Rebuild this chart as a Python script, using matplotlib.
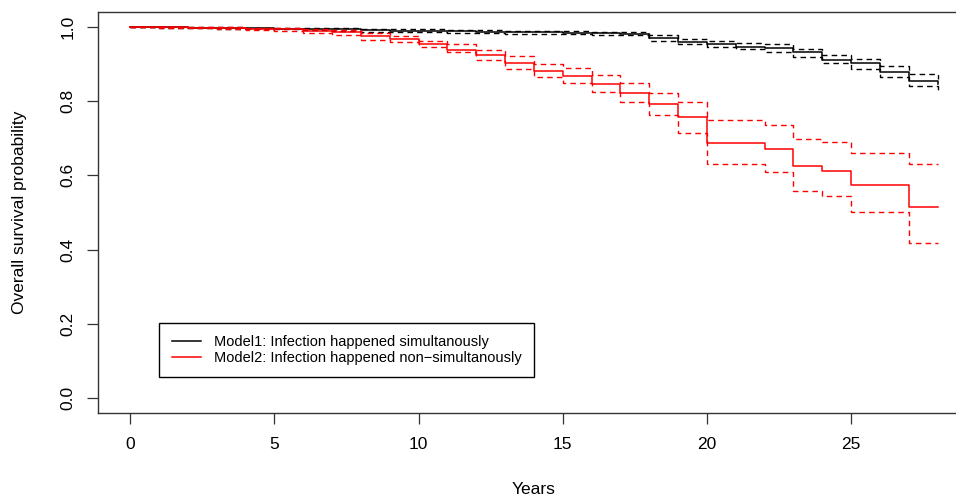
import matplotlib
matplotlib.use('Agg')
import matplotlib.pyplot as plt

plt.rcParams['font.family'] = ['Liberation Sans', 'DejaVu Sans']

years = list(range(0, 29))

# Model1 (black)
m1 = [1.000, 0.999, 0.998, 0.997, 0.996, 0.995, 0.994, 0.993, 0.991, 0.990,
      0.989, 0.988, 0.987, 0.986, 0.985, 0.984, 0.983, 0.982, 0.970, 0.959,
      0.954, 0.947, 0.942, 0.932, 0.912, 0.902, 0.879, 0.855, 0.845]
m1_upper = [1.000, 1.000, 0.999, 0.999, 0.998, 0.998, 0.997, 0.997, 0.995, 0.994,
            0.993, 0.992, 0.991, 0.990, 0.989, 0.988, 0.987, 0.986, 0.978, 0.968,
            0.962, 0.957, 0.953, 0.941, 0.924, 0.914, 0.894, 0.873, 0.860]
m1_lower = [1.000, 0.998, 0.997, 0.995, 0.994, 0.993, 0.991, 0.990, 0.987, 0.986,
            0.985, 0.984, 0.983, 0.982, 0.981, 0.980, 0.979, 0.978, 0.963, 0.954,
            0.945, 0.940, 0.932, 0.918, 0.902, 0.886, 0.864, 0.840, 0.825]

# Model2 (red)
m2 = [1.000, 0.999, 0.998, 0.997, 0.995, 0.993, 0.990, 0.986, 0.975, 0.967,
      0.953, 0.938, 0.924, 0.902, 0.880, 0.868, 0.847, 0.823, 0.791, 0.756,
      0.688, 0.688, 0.672, 0.624, 0.613, 0.575, 0.575, 0.516, 0.516]
m2_upper = [1.000, 1.000, 1.000, 0.999, 0.998, 0.997, 0.995, 0.992, 0.984, 0.976,
            0.962, 0.953, 0.937, 0.921, 0.900, 0.888, 0.870, 0.849, 0.822, 0.799,
            0.750, 0.750, 0.736, 0.699, 0.690, 0.660, 0.660, 0.632, 0.632]
m2_lower = [1.000, 0.998, 0.996, 0.994, 0.991, 0.988, 0.984, 0.979, 0.965, 0.958,
            0.945, 0.931, 0.912, 0.886, 0.864, 0.849, 0.825, 0.798, 0.762, 0.714,
            0.632, 0.632, 0.610, 0.557, 0.544, 0.501, 0.501, 0.419, 0.419]

labels = ['Model1: Infection happened simultanously',
          'Model2: Infection happened non\u2212simultanously']

fig = plt.figure(figsize=(9.56, 4.99), dpi=100)
ax = fig.add_axes([0.1025, 0.1723, 0.912, 0.8036])

dash = (0, (4, 3))
ax.step(years, m1, where='post', color='black', lw=1.1, label=labels[0])
ax.step(years, m1_upper, where='post', color='black', lw=1.0, linestyle=dash)
ax.step(years, m1_lower, where='post', color='black', lw=1.0, linestyle=dash)
ax.step(years, m2, where='post', color='red', lw=1.1, label=labels[1])
ax.step(years, m2_upper, where='post', color='red', lw=1.0, linestyle=dash)
ax.step(years, m2_lower, where='post', color='red', lw=1.0, linestyle=dash)

ax.set_xlim(-1.12, 29.12)
ax.set_ylim(-0.04, 1.04)
ax.set_xticks([0, 5, 10, 15, 20, 25])
ax.set_yticks([0.0, 0.2, 0.4, 0.6, 0.8, 1.0])
ax.set_yticklabels(['0.0', '0.2', '0.4', '0.6', '0.8', '1.0'], rotation=90, va='center')
ax.tick_params(axis='both', direction='out', length=8, width=0.9, labelsize=12.5, color='#333333')
ax.tick_params(axis='x', pad=9)
ax.tick_params(axis='y', pad=8)
for s in ax.spines.values():
    s.set_color('#333333')
    s.set_linewidth(1.0)

ax.set_xlabel('Years', fontsize=12.5, labelpad=22)
ax.set_ylabel('Overall survival probability', fontsize=12.5, labelpad=24)

leg = ax.legend(loc='upper left', bbox_to_anchor=(1.0, 0.203),
                bbox_transform=ax.transData, borderaxespad=0,
                fancybox=False, edgecolor='black', framealpha=1,
                fontsize=10.5, handlelength=2.0, handletextpad=0.9,
                labelspacing=0.1, borderpad=0.85)
leg.get_frame().set_linewidth(1.0)

fig.savefig('out.png', dpi=100)
